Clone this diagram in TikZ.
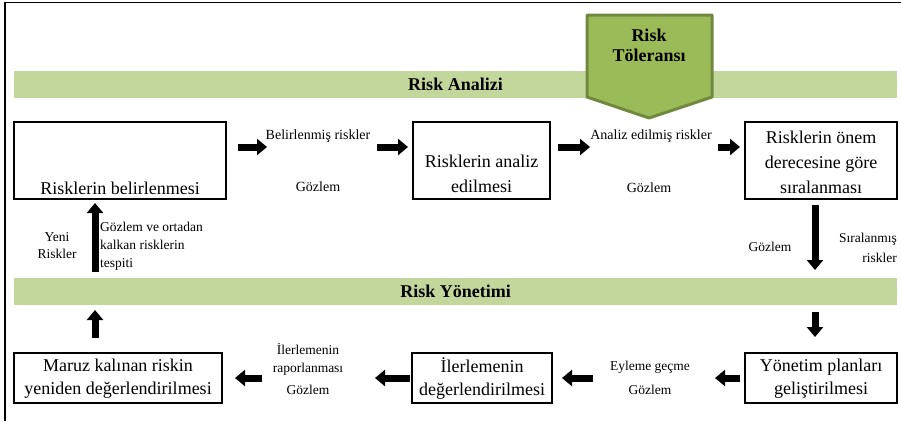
\documentclass[tikz,border=0pt]{standalone}
\usepackage{fontspec}
\setmainfont{Liberation Serif}
\usetikzlibrary{arrows.meta}
\definecolor{bandgreen}{HTML}{C3D69B}
\definecolor{tolfill}{HTML}{9BBB59}
\definecolor{toldraw}{HTML}{71893F}
\begin{document}
\begin{tikzpicture}[x=1pt,y=-1pt,
  box/.style={draw=black, line width=1.3pt, rectangle, inner sep=0pt},
  band/.style={fill=bandgreen, inner sep=0pt, minimum width=883pt, minimum height=27pt, font=\fontsize{18}{20}\selectfont\bfseries},
  boxtext/.style={align=center, font=\fontsize{18}{25}\selectfont, inner sep=0pt},
  lbl/.style={align=center, font=\fontsize{14}{18}\selectfont, inner sep=0pt},
  blk/.style={line width=7pt, -{Triangle[width=16pt,length=10pt]}},
]
\useasboundingbox (0,0) rectangle (901,421);
% frame
\draw[line width=1.5pt] (5,421) -- (5,2.5) -- (901,2.5);

% bands
\node[band] (ana) at (455.5,84.5) {Risk Analizi};
\node[band] (yon) at (455.5,291) {Risk Yönetimi};

% tolerance pentagon
\coordinate (t1) at (587,15);
\coordinate (t2) at (712,15);
\coordinate (t3) at (712,97);
\coordinate (t4) at (649,118);
\coordinate (t5) at (587,97);
\draw[fill=tolfill, draw=toldraw, line width=3pt, line join=round] (t1) -- (t2) -- (t3) -- (t4) -- (t5) -- cycle;
\node[align=center, font=\fontsize{18}{20}\selectfont\bfseries, inner sep=0pt] (tol) at (649,45) {Risk\\Töleransı};

% boxes
\node[box, minimum width=212pt, minimum height=77pt] (b1) at (120,160.5) {};
\node[box, minimum width=137pt, minimum height=77pt] (b2) at (481.5,160.5) {};
\node[box, minimum width=152pt, minimum height=77pt] (b3) at (821,160.5) {};
\node[box, minimum width=208pt, minimum height=50pt] (b4) at (118,378) {};
\node[box, minimum width=140pt, minimum height=50pt] (b5) at (482,378) {};
\node[box, minimum width=152pt, minimum height=50pt] (b6) at (821,378) {};

\node[boxtext] (t_b1) at (120,188) {Risklerin belirlenmesi};
\node[boxtext] (t_b2) at (481.5,174) {Risklerin analiz\\edilmesi};
\node[boxtext] (t_b3) at (821,162) {Risklerin önem\\derecesine göre\\sıralanması};
\node[boxtext, font=\fontsize{18}{23}\selectfont] (t_b4) at (118,378.5) {Maruz kalınan riskin\\yeniden değerlendirilmesi};
\node[boxtext, font=\fontsize{18}{23}\selectfont] (t_b5) at (482,378.5) {İlerlemenin\\değerlendirilmesi};
\node[boxtext, font=\fontsize{18}{23}\selectfont] (t_b6) at (821,378.5) {Yönetim planları\\geliştirilmesi};

% labels
\node[lbl] (l1) at (318,136) {Belirlenmiş riskler};
\node[lbl] (l2) at (318,187) {Gözlem};
\node[lbl] (l3) at (651,136) {Analiz edilmiş riskler};
\node[lbl] (l4) at (649,188) {Gözlem};
\node[lbl, font=\fontsize{13.5}{17}\selectfont] (l5) at (57,246) {Yeni\\Riskler};
\node[lbl, align=left, anchor=west, font=\fontsize{13.5}{18}\selectfont] (l6) at (100,246) {Gözlem ve ortadan\\kalkan risklerin\\tespiti};
\node[lbl, font=\fontsize{13.5}{17}\selectfont] (l7) at (770,247) {Gözlem};
\node[lbl, align=right, anchor=east, font=\fontsize{13.5}{20}\selectfont] (l8) at (897,248) {Sıralanmış\\riskler};
\node[lbl, font=\fontsize{13.5}{18}\selectfont] (l9) at (308,359) {İlerlemenin\\raporlanması};
\node[lbl, font=\fontsize{13.5}{17}\selectfont] (l10) at (308,390) {Gözlem};
\node[lbl, font=\fontsize{13.5}{17}\selectfont] (l11) at (650,367) {Eyleme geçme};
\node[lbl, font=\fontsize{13.5}{17}\selectfont] (l12) at (650,390) {Gözlem};

% arrow end points
\coordinate (a1s) at (238,147); \coordinate (a1e) at (267,147);
\coordinate (a2s) at (377,147); \coordinate (a2e) at (408,147);
\coordinate (a3s) at (558,147); \coordinate (a3e) at (590,147);
\coordinate (a4s) at (718,147); \coordinate (a4e) at (740,147);
\coordinate (a5s) at (815,205); \coordinate (a5e) at (815,270);
\coordinate (a6s) at (815,312); \coordinate (a6e) at (815,337);
\coordinate (a7s) at (740,378); \coordinate (a7e) at (715,378);
\coordinate (a8s) at (593,378); \coordinate (a8e) at (562,378);
\coordinate (a9s) at (410,378); \coordinate (a9e) at (375,378);
\coordinate (a10s) at (262,378); \coordinate (a10e) at (235,378);
\coordinate (a11s) at (95,338); \coordinate (a11e) at (95,310);
\coordinate (a12s) at (95,272); \coordinate (a12e) at (95,203);

\foreach \i in {1,...,12} {\draw[blk] (a\i s) -- (a\i e);}
\end{tikzpicture}
\end{document}
